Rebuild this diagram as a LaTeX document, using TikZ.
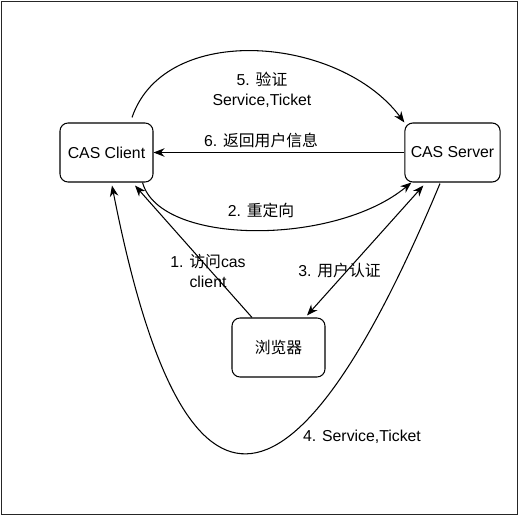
\documentclass[tikz,border=0pt]{standalone}
\usepackage{fontspec}
\setmainfont{Liberation Sans}
\newfontfamily\cjk{Noto Sans CJK SC}
\usetikzlibrary{arrows.meta}

\tikzset{
  box/.style={draw, rounded corners=0.16cm, minimum width=1.86cm, minimum height=1.18cm, line width=0.6pt},
  arr/.style={-{Stealth[length=2.2mm,width=1.7mm]}, line width=0.6pt},
  lbl/.style={align=center, font=\fontsize{9}{11.4}\selectfont}
}

\begin{document}
\begin{tikzpicture}[font=\fontsize{9}{11.4}\selectfont]
% Frame
\useasboundingbox (0,0) rectangle (10.38,10.32);
\draw[line width=0.7pt, black!85] (0.03,0.03) rectangle (10.35,10.29);

% Nodes
\node[box] (client) at (2.13,7.27) {CAS Client};
\node[box] (server) at (9.05,7.27) {CAS Server};
\node[box] (browser) at (5.57,3.37) {\cjk 浏览器};

% 5. top arc client -> server
\draw[arr] ([shift={(0.51,0.1)}]client.north) .. controls (3.3,9.9) and (6.8,9.6) .. (server.north west);
\node[lbl] (l5) at (5.24,8.52) {5. {\cjk 验证}\\Service,Ticket};

% 6. straight back
\draw[arr] (server.west) -- (client.east);
\node[lbl] (l6) at (5.22,7.52) {6. {\cjk 返回用户信息}};

% 2. lower arc client -> server
\draw[arr] ([xshift=-0.22cm]client.south east) .. controls (3.2,5.4) and (6.7,5.4) .. ([xshift=0.14cm]server.south west);
\node[lbl] (l2) at (5.22,6.12) {2. {\cjk 重定向}};

% 1. browser -> client
\draw[arr] ([xshift=-0.53cm]browser.north) -- ([shift={(0.57,-0.06)}]client.south);
\node[lbl] (l1) at (4.16,4.9) {1. {\cjk 访问}cas\\client};

% 3. server <-> browser
\draw[arr, {Stealth[length=2.2mm,width=1.7mm]}-{Stealth[length=2.2mm,width=1.7mm]}] ([shift={(0.38,-0.06)}]server.south west) -- ([shift={(0.57,0.04)}]browser.north);
\node[lbl] (l3) at (6.79,4.92) {3. {\cjk 用户认证}};

% 4. big loop server -> client
\draw[arr] ([shift={(-0.25,-0.02)}]server.south) .. controls (5.8,-0.53) and (3.64,-0.53) .. ([shift={(0.11,-0.06)}]client.south);
\node[lbl] (l4) at (7.24,1.58) {4. Service,Ticket};
\end{tikzpicture}
\end{document}
